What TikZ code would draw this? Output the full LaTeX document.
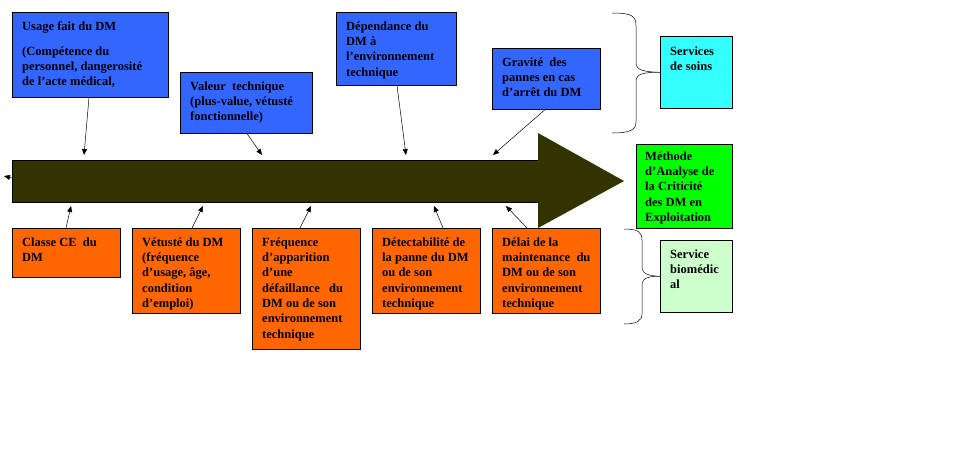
\documentclass[tikz,border=0pt]{standalone}
\usepackage{fontspec}
\setmainfont{Liberation Serif}
\usetikzlibrary{arrows.meta}
\definecolor{boxblue}{HTML}{3366FF}
\definecolor{boxorange}{HTML}{FF6600}
\definecolor{boxcyan}{HTML}{33FFFF}
\definecolor{boxgreen}{HTML}{00FF00}
\definecolor{boxlight}{HTML}{CCFFCC}
\definecolor{arrowolive}{HTML}{333300}
\newcommand{\topstrut}{\rule{0pt}{10pt}}
\begin{document}
\begin{tikzpicture}[x=1pt,y=-1pt,
  box/.style={draw=black, line width=0.6pt, inner sep=0pt, anchor=north west},
  txt/.style={anchor=north west, inner sep=0pt, align=left, font=\fontsize{12.5}{15.3}\selectfont\bfseries},
  conn/.style={draw=black, line width=0.5pt, -{Triangle[length=6pt,width=5pt]}},
  bracestyle/.style={draw=black, line width=0.5pt}]
\useasboundingbox (0,0) rectangle (975,450);

% big arrow
\fill[arrowolive] (12,160) -- (538,160) -- (538,133) -- (624,181) -- (538,228) -- (538,202) -- (12,202) -- cycle;
\draw[black, line width=0.5pt] (538,160) -- (12,160) -- (12,202) -- (538,202);

% endpoints on the arrow
\coordinate (a1) at (84,155);
\coordinate (a2) at (262,155);
\coordinate (a3) at (406,155);
\coordinate (a4) at (493,155);
\coordinate (e1) at (71,206);
\coordinate (e2) at (203,206);
\coordinate (e3) at (311,206);
\coordinate (e4) at (434,206);
\coordinate (e5) at (506,206);
\coordinate (l0) at (12,178);
\coordinate (l1) at (4,176);

% blue boxes
\node[box, fill=boxblue, minimum width=156pt, minimum height=85pt] (b1) at (12,12) {};
\node[box, fill=boxblue, minimum width=132pt, minimum height=61pt] (b2) at (180,72) {};
\node[box, fill=boxblue, minimum width=120pt, minimum height=73pt] (b3) at (336,12) {};
\node[box, fill=boxblue, minimum width=108pt, minimum height=61pt] (b4) at (492,48) {};

\node[txt] (tb1) at (22,20) {\topstrut Usage fait du DM\\[9.7pt](Compétence du\\personnel, dangerosité\\de l'acte médical,};
\node[txt] (tb2) at (190,80) {\topstrut Valeur\ \ technique\\(plus-value, vétusté\\fonctionnelle)};
\node[txt] (tb3) at (346,20) {\topstrut Dépendance du\\DM à\\l'environnement\\technique};
\node[txt] (tb4) at (502,56) {\topstrut Gravité\ \ des\\pannes en cas\\d'arrêt du DM};

% orange boxes
\node[box, fill=boxorange, minimum width=108pt, minimum height=49pt] (o1) at (12,228) {};
\node[box, fill=boxorange, minimum width=108pt, minimum height=85pt] (o2) at (132,228) {};
\node[box, fill=boxorange, minimum width=108pt, minimum height=121pt] (o3) at (252,228) {};
\node[box, fill=boxorange, minimum width=108pt, minimum height=85pt] (o4) at (372,228) {};
\node[box, fill=boxorange, minimum width=108pt, minimum height=85pt] (o5) at (492,228) {};

\node[txt] (to1) at (22,236) {\topstrut Classe CE\ \ du\\DM};
\node[txt] (to2) at (142,236) {\topstrut Vétusté du DM\\(fréquence\\d'usage, âge,\\condition\\d'emploi)};
\node[txt] (to3) at (262,236) {\topstrut Fréquence\\d'apparition\\d'une\\défaillance\ \ \ du\\DM ou de son\\environnement\\technique};
\node[txt] (to4) at (382,236) {\topstrut Détectabilité de\\la panne du DM\\ou de son\\environnement\\technique};
\node[txt] (to5) at (502,236) {\topstrut Délai de la\\maintenance\ \ du\\DM ou de son\\environnement\\technique};

% right boxes
\node[box, fill=boxcyan, minimum width=72pt, minimum height=72pt] (c1) at (660,36) {};
\node[box, fill=boxgreen, minimum width=96pt, minimum height=84pt] (g1) at (636,144) {};
\node[box, fill=boxlight, minimum width=72pt, minimum height=72pt] (s1) at (660,240) {};

\node[txt] (tc1) at (670,45) {\topstrut Services\\de soins};
\begin{scope}
\clip (g1.north west) rectangle (g1.south east);
\node[txt] (tg1) at (645,150) {\topstrut Méthode\\d'Analyse de\\la Criticité\\des DM en\\Exploitation};
\end{scope}
\node[txt] (ts1) at (670,248) {\topstrut Service\\biomédic\\al};

% connectors
\draw[conn] ([xshift=77pt]b1.south west) -- (a1);
\draw[conn] ([xshift=67pt]b2.south west) -- (a2);
\draw[conn] ([xshift=61pt]b3.south west) -- (a3);
\draw[conn] ([xshift=53pt]b4.south west) -- (a4);
\draw[conn] ([xshift=54pt]o1.north west) -- (e1);
\draw[conn] ([xshift=60pt]o2.north west) -- (e2);
\draw[conn] ([xshift=48pt]o3.north west) -- (e3);
\draw[conn] ([xshift=71pt]o4.north west) -- (e4);
\draw[conn] ([xshift=35pt]o5.north west) -- (e5);
\draw[conn] (l0) -- (l1);

% braces
\draw[bracestyle] (612,13) .. controls (632,13) and (636,16) .. (636,26) -- (636,64)
  .. controls (636,70) and (645,72) .. (c1.west)
  .. controls (645,72) and (636,74) .. (636,80) -- (636,122)
  .. controls (636,130) and (630,133) .. (612,133);
\draw[bracestyle] (624,229) .. controls (638,229) and (642,232) .. (642,240) -- (642,268)
  .. controls (642,274) and (650,276) .. (s1.west)
  .. controls (650,276) and (642,278) .. (642,284) -- (642,314)
  .. controls (642,321) and (636,324) .. (624,324);
\end{tikzpicture}
\end{document}
